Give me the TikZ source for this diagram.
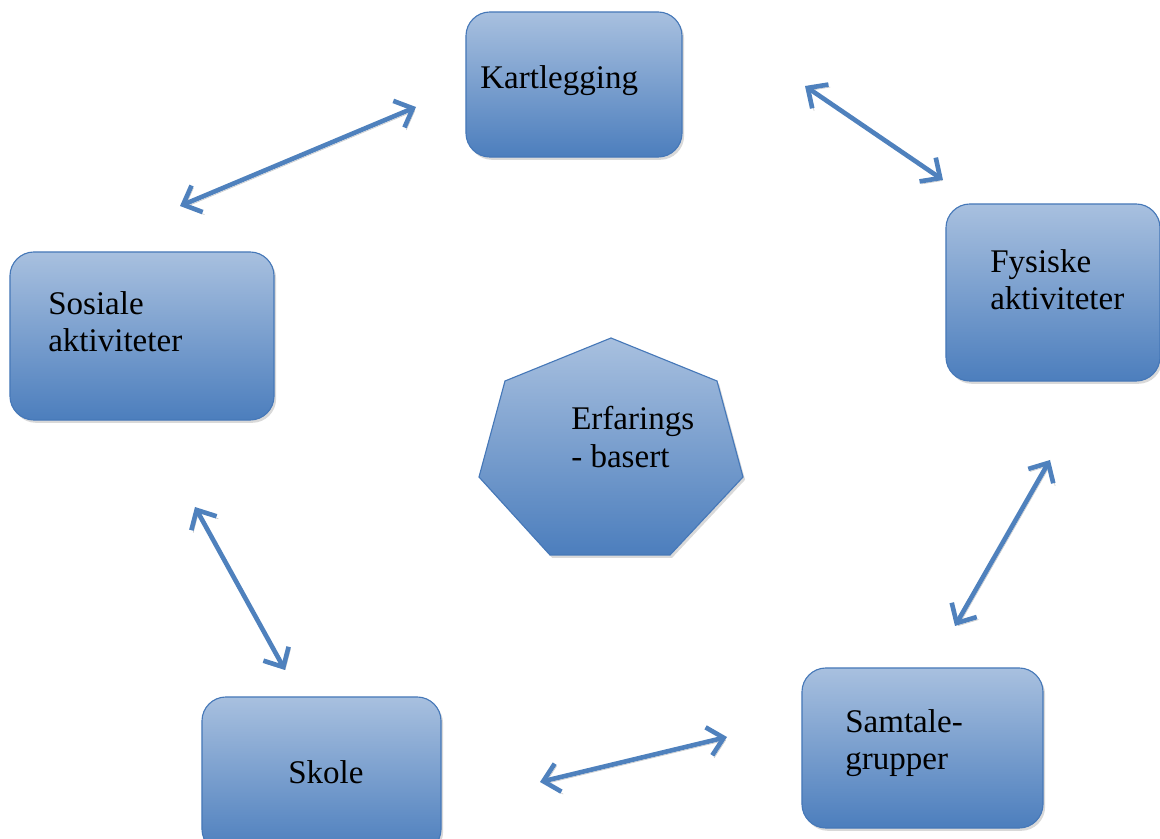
\documentclass[tikz,border=0pt]{standalone}
\usepackage{fontspec}
\setmainfont{Liberation Serif}
\usetikzlibrary{
    arrows.meta,
    calc,
    positioning,
    shadows,
    shapes,
}
\definecolor{BoxTop}{RGB}{168,192,223}
\definecolor{BoxBottom}{RGB}{76,126,189}
\definecolor{BoxLine}{RGB}{70,120,184}
\definecolor{LinkBlue}{RGB}{79,129,189}
\tikzstyle{activity}=[draw=BoxLine,thick,rectangle,rounded corners=6mm,top color=BoxTop,bottom color=BoxBottom,drop shadow={shadow xshift=1.5pt,shadow yshift=-2pt,opacity=.3}]
\tikzstyle{center}=[draw=BoxLine,thick,top color=BoxTop,bottom color=BoxBottom,drop shadow={shadow xshift=1.5pt,shadow yshift=-2pt,opacity=.3}]
\tikzstyle{boxtext}=[anchor=west,align=left,inner sep=0pt,font=\fontsize{23.5}{26.5}\selectfont]
\tikzstyle{link}=[draw=LinkBlue,line width=3.3pt,<->,preaction={draw=black!22,<->,transform canvas={xshift=1.3pt,yshift=-1.8pt}}]
\tikzset{
    >={Straight Barb[length=3.8mm,width=7.2mm]}
}

\begin{document}
\begin{tikzpicture}[x=0.025cm,y=-0.025cm]
    \useasboundingbox (0,0) rectangle (1160,839);

    % Boxes
    \node[activity,minimum width=5.4cm,minimum height=3.625cm] (Kartlegging) at (574,84.5) {};
    \node[activity,minimum width=5.35cm,minimum height=4.425cm] (Fysiske) at (1053,292.5) {};
    \node[activity,minimum width=6.6cm,minimum height=4.2cm] (Sosiale) at (142,336) {};
    \node[activity,minimum width=5.975cm,minimum height=3.9cm] (Skole) at (321.5,775) {};
    \node[activity,minimum width=6.025cm,minimum height=4cm] (Samtale) at (922.5,748) {};

    \draw[center] (611,338) -- (717,381) -- (743,477) -- (670,555) -- (550,555) -- (479,477) -- (505,381) -- cycle;

    % Texts
    \node[boxtext] (t_kart) at (480,81) {Kartlegging};
    \node[boxtext] (t_fys) at (990,280) {Fysiske\\aktiviteter};
    \node[boxtext] (t_sos) at (48,322) {Sosiale\\aktiviteter};
    \node[boxtext] (t_skole) at (288,772) {Skole};
    \node[boxtext] (t_sam) at (845,743) {Samtale-\\grupper};
    \node[boxtext] (t_erf) at (571,437) {Erfarings\\- basert};

    % Arrow ends
    \coordinate (kart_w) at (416,107);
    \coordinate (sos_n) at (180,206);
    \coordinate (kart_e) at (805,86);
    \coordinate (fys_n) at (943,180);
    \coordinate (fys_s) at (1050,460);
    \coordinate (sam_n) at (955,626);
    \coordinate (sam_w) at (727,737);
    \coordinate (skole_e) at (540,782);
    \coordinate (skole_n) at (285,670);
    \coordinate (sos_s) at (195,507);

    \draw[link] (sos_n) -- (kart_w);
    \draw[link] (kart_e) -- (fys_n);
    \draw[link] (fys_s) -- (sam_n);
    \draw[link] (sam_w) -- (skole_e);
    \draw[link] (skole_n) -- (sos_s);
\end{tikzpicture}
\end{document}
